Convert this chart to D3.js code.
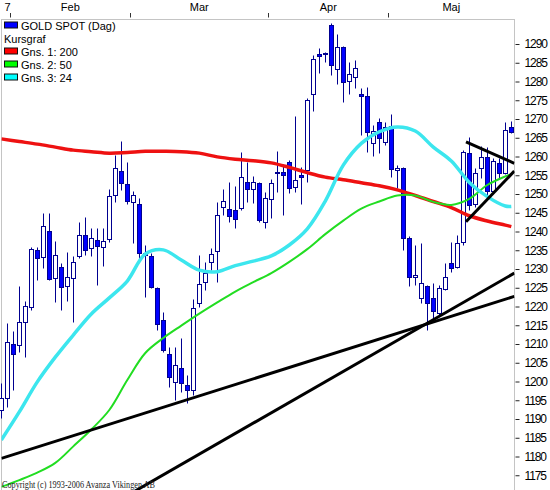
<!DOCTYPE html>
<html>
<head>
<meta charset="utf-8">
<script src="https://cdn.jsdelivr.net/npm/d3@7"></script>
<style>
  body { margin: 0; background: #fff; }
  svg { display: block; font-family: "Liberation Sans", Arial, sans-serif; }
</style>
</head>
<body>
<div id="chart"></div>
<script>
// Daily candles, GOLD SPOT, 30 Jan - 29 May (trading days)
const openP = [1192.4, 1195.7, 1210.0, 1209.7, 1215.9, 1220.0, 1235.1, 1233.1, 1240.1, 1227.5,
  1230.5, 1225.5, 1227.5, 1233.4, 1239.0, 1235.5, 1237.7, 1235.8, 1237.9, 1249.7,
  1256.1, 1252.7, 1247.8, 1247.3, 1233.7, 1233.5, 1224.9, 1216.4, 1207.3, 1199.9,
  1203.6, 1199.1, 1197.7, 1220.9, 1226.6, 1231.8, 1234.9, 1246.5, 1246.0, 1245.7,
  1246.2, 1253.1, 1251.3, 1252.9, 1242.5, 1248.6, 1255.5, 1255.9, 1258.6, 1251.8,
  1255.1, 1256.4, 1276.6, 1287.3, 1287.3, 1295.1, 1283.3, 1289.3, 1280.2, 1281.1,
  1276.7, 1276.1, 1263.5, 1269.1, 1263.9, 1268.2, 1256.4, 1257.0, 1238.2, 1228.0,
  1222.2, 1225.5, 1222.3, 1218.2, 1224.6, 1231.5, 1230.5, 1237.3, 1260.9, 1247.3,
  1256.9, 1259.8, 1250.9, 1258.2, 1255.7, 1267.8];
const highP = [1199.5, 1215.5, 1213.5, 1225.5, 1221.5, 1235.9, 1235.8, 1244.9, 1244.9, 1237.5,
  1231.5, 1234.6, 1233.5, 1242.5, 1244.0, 1240.9, 1240.9, 1240.9, 1251.3, 1260.4,
  1264.1, 1258.5, 1250.8, 1248.9, 1236.4, 1234.2, 1225.3, 1218.6, 1209.3, 1209.2,
  1211.6, 1201.7, 1221.9, 1233.7, 1231.8, 1235.5, 1247.8, 1251.3, 1253.3, 1252.1,
  1261.2, 1258.6, 1254.8, 1253.3, 1250.6, 1253.9, 1261.5, 1257.9, 1259.1, 1270.8,
  1257.3, 1275.5, 1287.1, 1288.9, 1287.9, 1295.5, 1292.6, 1289.5, 1285.2, 1285.7,
  1278.2, 1278.5, 1268.4, 1270.2, 1269.3, 1271.3, 1257.7, 1257.3, 1238.9, 1236.4,
  1236.9, 1225.7, 1226.3, 1225.8, 1231.7, 1237.3, 1239.1, 1261.7, 1265.1, 1256.9,
  1262.8, 1262.6, 1259.5, 1259.5, 1269.3, 1269.5];
const lowP = [1190.3, 1193.3, 1197.7, 1207.9, 1206.6, 1219.1, 1227.1, 1230.2, 1227.1, 1221.3,
  1219.1, 1221.5, 1215.9, 1232.9, 1233.7, 1233.5, 1225.7, 1230.8, 1237.3, 1247.9,
  1251.1, 1247.3, 1236.9, 1232.4, 1222.6, 1224.9, 1213.7, 1207.9, 1198.6, 1195.1,
  1197.2, 1194.3, 1196.4, 1220.0, 1224.4, 1229.7, 1226.6, 1244.4, 1242.6, 1240.9,
  1245.7, 1247.9, 1247.7, 1242.6, 1240.9, 1243.6, 1250.6, 1244.4, 1250.2, 1250.6,
  1247.3, 1253.3, 1272.1, 1282.2, 1285.3, 1281.7, 1279.3, 1274.6, 1276.7, 1278.2,
  1265.7, 1261.3, 1260.1, 1260.9, 1263.1, 1254.6, 1251.5, 1235.1, 1225.5, 1225.7,
  1220.9, 1213.7, 1215.9, 1217.7, 1224.4, 1229.3, 1230.2, 1236.4, 1245.7, 1246.6,
  1254.2, 1249.7, 1250.2, 1254.2, 1255.3, 1266.3];
const closeP = [1195.5, 1210.5, 1207.3, 1215.8, 1220.2, 1235.3, 1233.0, 1241.5, 1227.3, 1233.7,
  1225.1, 1227.8, 1231.8, 1239.0, 1235.0, 1238.2, 1236.1, 1237.5, 1249.5, 1256.9,
  1252.9, 1248.2, 1249.7, 1234.3, 1234.3, 1225.3, 1215.3, 1208.4, 1201.1, 1204.4,
  1199.6, 1197.7, 1219.5, 1225.9, 1229.0, 1234.0, 1244.4, 1248.1, 1244.2, 1243.3,
  1254.5, 1251.3, 1253.1, 1243.1, 1249.0, 1252.9, 1255.9, 1255.1, 1251.5, 1253.7,
  1254.6, 1275.1, 1286.0, 1286.8, 1287.5, 1284.4, 1289.3, 1279.9, 1281.9, 1283.6,
  1276.1, 1266.6, 1266.9, 1264.9, 1267.9, 1256.6, 1257.0, 1238.2, 1227.9, 1228.3,
  1226.2, 1220.9, 1218.9, 1224.9, 1227.9, 1230.3, 1236.9, 1261.3, 1247.1, 1255.5,
  1259.9, 1250.9, 1258.8, 1255.7, 1267.1, 1266.5];

// Moving averages every third trading day
const maDays = [0, 3, 6, 9, 12, 15, 18, 21, 24, 27, 30, 33, 36, 39, 42, 45, 48, 51, 54, 57,
  60, 63, 66, 69, 72, 75, 78, 81, 84, 85];
const ma200 = [1264.7, 1264.0, 1263.3, 1262.5, 1261.7, 1261.3, 1260.9, 1261.1, 1261.4, 1261.4,
  1261.3, 1260.9, 1259.9, 1259.3, 1258.9, 1258.3, 1257.1, 1255.7, 1254.5, 1253.8,
  1253.0, 1252.2, 1251.1, 1249.6, 1248.0, 1246.4, 1244.2, 1242.8, 1241.7, 1241.3];
const ma50 = [1171.9, 1173.7, 1175.7, 1178.3, 1182.7, 1187.2, 1192.4, 1200.4, 1207.6, 1211.6,
  1214.9, 1218.1, 1221.1, 1224.0, 1226.5, 1228.9, 1231.9, 1235.3, 1239.3, 1242.9,
  1246.1, 1248.0, 1249.6, 1249.6, 1247.9, 1247.1, 1248.7, 1252.4, 1254.7, 1255.3];
const ma24 = [1184.4, 1191.9, 1199.9, 1206.5, 1212.4, 1218.0, 1222.3, 1226.8, 1234.0, 1235.1,
  1232.4, 1229.7, 1229.3, 1230.9, 1232.1, 1233.5, 1236.4, 1240.7, 1248.1, 1257.7,
  1263.5, 1266.6, 1267.9, 1266.8, 1262.5, 1258.8, 1253.1, 1249.3, 1246.8, 1246.7];

// Hand drawn trend lines (day index, price)
const trendStartDay = [0, 21, 77.45, 77.45];
const trendStartVal = [1179.5, 1169.6, 1242.6, 1263.9];
const trendEndDay = [85.5, 85.5, 85.5, 85.5];
const trendEndVal = [1222.7, 1228.9, 1256.1, 1258.2];

const monthLabels = ["7", "Feb", "Mar", "Apr", "Maj"];
const yTicks = d3.range(1175, 1291, 5);
const yDomain = [1171.07, 1296.67];

const legendNames = ["GOLD SPOT (Dag)", "Kursgraf", "Gns. 1: 200", "Gns. 2: 50", "Gns. 3: 24"];
const legendColors = ["#0000ff", null, "#ff0000", "#00ff00", "#00ffff"];

const width = 550, height = 490;
const plot = { left: 1.5, top: 19.5, right: 514.5, bottom: 490 };
const step = 6;

const dates = d3.timeDay
  .range(new Date(2017, 0, 30), new Date(2017, 4, 30))
  .filter((d) => d.getDay() !== 0 && d.getDay() !== 6);
const n = dates.length;

const x = d3.scaleBand().domain(d3.range(n)).range([514.3 - step * n, 514.3]);
const xc = d3.scaleLinear().domain([0, n - 1]).range([x(0) + step / 2, x(n - 1) + step / 2]);
const y = d3.scaleLinear().domain(yDomain).range([490, 19]);

const svg = d3.select("#chart").append("svg").attr("width", width).attr("height", height);

svg.append("defs").append("clipPath").attr("id", "plotclip")
  .append("rect")
  .attr("x", plot.left).attr("y", plot.top)
  .attr("width", plot.right - plot.left).attr("height", plot.bottom - plot.top);

// plot frame
svg.append("rect")
  .attr("x", plot.left).attr("y", plot.top)
  .attr("width", plot.right - plot.left).attr("height", plot.bottom - plot.top + 2)
  .attr("fill", "#fff").attr("stroke", "#c4c4c4");

// month ticks and labels along the top
const months = d3.groups(d3.range(n), (i) => dates[i].getMonth());
months.forEach(([m, idx], k) => {
  const first = idx[0], last = idx[idx.length - 1];
  if (k > 0) {
    const tx = Math.round(x(first)) + 0.5;
    svg.append("line").attr("x1", tx).attr("x2", tx).attr("y1", 13).attr("y2", 17.5)
      .attr("stroke", "#333");
  }
  const cx = (Math.max(x(first), plot.left) + x(last) + step) / 2;
  svg.append("text")
    .attr("x", k === 0 ? cx + 1.7 : cx)
    .attr("y", 10.5)
    .attr("text-anchor", "middle")
    .attr("font-size", 11)
    .attr("fill", "#000")
    .text(monthLabels[k]);
});

// right price axis
const yAxis = svg.append("g")
  .attr("transform", `translate(${plot.right + 1},0)`)
  .call(d3.axisRight(y).tickValues(yTicks).tickSize(4).tickPadding(5).tickFormat(d3.format("d")));
yAxis.select(".domain").remove();
yAxis.selectAll(".tick line").attr("stroke", "#222");
yAxis.selectAll(".tick text")
  .attr("font-family", "'Liberation Sans', Arial, sans-serif")
  .attr("font-size", 12)
  .attr("letter-spacing", -1.1)
  .attr("fill", "#000");

// candles
const candles = d3.range(n).map((i) => ({ i, o: openP[i], h: highP[i], l: lowP[i], c: closeP[i] }));
const px = (i) => Math.floor(xc(i)) + 0.5;
const py = (v) => Math.round(y(v)) + 0.5;

const cg = svg.append("g");
cg.selectAll("line")
  .data(candles)
  .join("line")
  .attr("x1", (d) => px(d.i)).attr("x2", (d) => px(d.i))
  .attr("y1", (d) => py(d.h)).attr("y2", (d) => py(d.l))
  .attr("stroke", "#000090");
cg.selectAll("rect")
  .data(candles)
  .join("rect")
  .attr("x", (d) => px(d.i) - 2)
  .attr("width", 4)
  .attr("y", (d) => py(Math.max(d.o, d.c)))
  .attr("height", (d) => Math.max(1, py(Math.min(d.o, d.c)) - py(Math.max(d.o, d.c))))
  .attr("fill", (d) => (d.c >= d.o ? "#fff" : "#0000ff"))
  .attr("stroke", "#000090");

// moving averages
const lines = svg.append("g").attr("clip-path", "url(#plotclip)");
const maLine = d3.line()
  .x((d) => xc(d[0]))
  .y((d) => y(d[1]))
  .curve(d3.curveCatmullRom.alpha(0.5));

[
  [ma200, "#ee1111", 3.5],
  [ma50, "#22dd22", 2],
  [ma24, "#3ce6ee", 3.5],
].forEach(([vals, color, w]) => {
  lines.append("path")
    .datum(maDays.map((dIdx, k) => [dIdx, vals[k]]))
    .attr("fill", "none")
    .attr("stroke", color)
    .attr("stroke-width", w)
    .attr("stroke-linejoin", "round")
    .attr("d", maLine);
});

// trend lines
lines.selectAll("line.trend")
  .data(d3.range(trendStartDay.length))
  .join("line")
  .attr("class", "trend")
  .attr("x1", (k) => xc(trendStartDay[k]))
  .attr("y1", (k) => y(trendStartVal[k]))
  .attr("x2", (k) => xc(trendEndDay[k]))
  .attr("y2", (k) => y(trendEndVal[k]))
  .attr("stroke", "#000")
  .attr("stroke-width", 3);

// legend
const legend = svg.append("g");
legendNames.forEach((name, r) => {
  const base = 29.5 + 13 * r;
  const col = legendColors[r];
  if (col) {
    legend.append("rect")
      .attr("x", 4.5).attr("y", base - 7.5)
      .attr("width", 13).attr("height", 6)
      .attr("fill", col).attr("stroke", "#111");
  }
  legend.append("text")
    .attr("x", col ? 21 : 4)
    .attr("y", base)
    .attr("font-size", 11)
    .attr("fill", "#000")
    .text(name);
});

// footer
svg.append("text")
  .attr("x", 2)
  .attr("y", 487.5)
  .attr("font-family", "'Liberation Serif', 'Times New Roman', serif")
  .attr("font-size", 9.5)
  .attr("textLength", 153)
  .attr("lengthAdjust", "spacingAndGlyphs")
  .attr("fill", "#222")
  .text("Copyright (c) 1993-2006 Avanza Vikingen AB");
</script>
</body>
</html>
